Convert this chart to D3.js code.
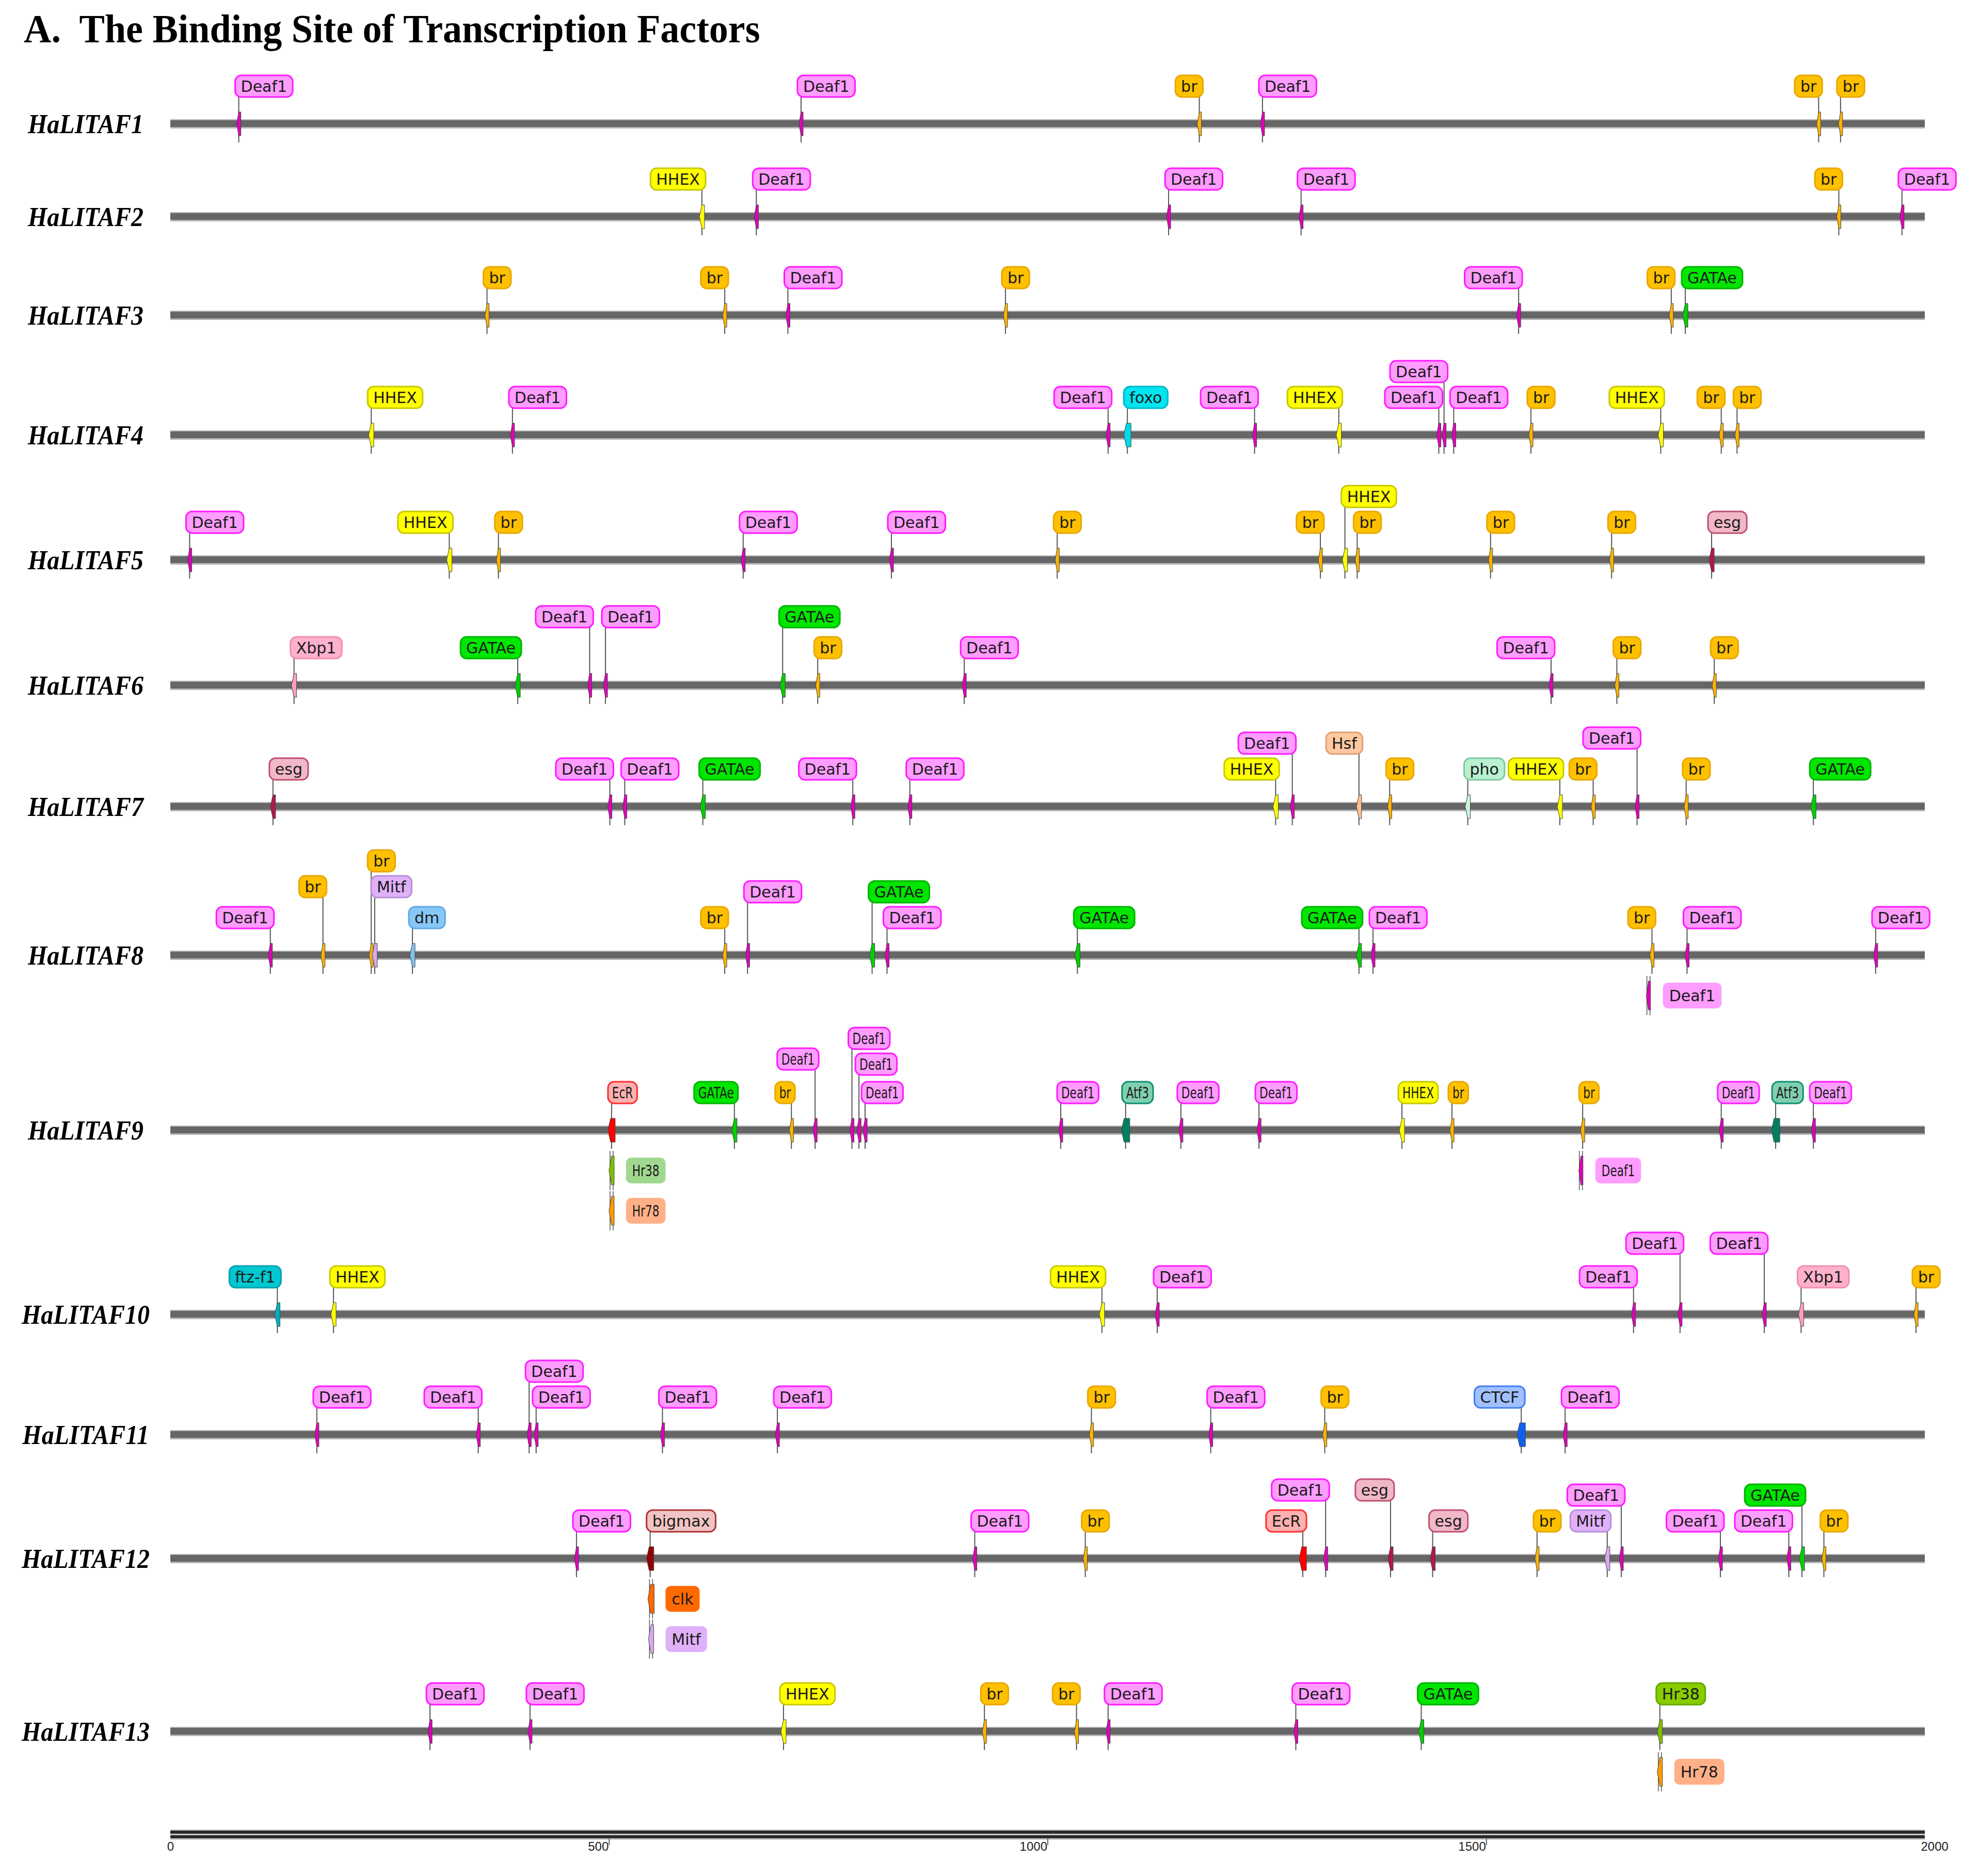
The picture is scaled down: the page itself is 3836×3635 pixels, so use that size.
<!DOCTYPE html>
<html>
<head>
<meta charset="utf-8">
<script src="https://cdn.jsdelivr.net/npm/d3@7"></script>
<style>
  body { margin: 0; background: #fff; }
</style>
</head>
<body>
<script>
// gene names (rows, top to bottom)
const genes = ['HaLITAF1','HaLITAF2','HaLITAF3','HaLITAF4','HaLITAF5','HaLITAF6','HaLITAF7',
               'HaLITAF8','HaLITAF9','HaLITAF10','HaLITAF11','HaLITAF12','HaLITAF13'];

// binding site positions (bp, 0-2000) per gene
const sitePos = [
  [78,719,1173,1245,1879,1904],
  [606,668,1138,1289,1902,1974],
  [361,632,704,952,1537,1711,1727],
  [229,390,1069,1091,1236,1332,1446,1452,1463,1551,1699,1768,1786],
  [22,318,374,653,822,1011,1311,1339,1353,1505,1643,1757],
  [141,396,478,496,698,738,905,1574,1649,1760],
  [117,501,518,607,778,843,1260,1279,1355,1390,1479,1584,1622,1672,1728,1873],
  [114,174,229,233,276,632,658,800,817,1034,1355,1371,1689,1685,1729,1944],
  [503,503,503,643,708,735,777,785,792,1015,1089,1152,1241,1404,1461,1610,1608,1768,1830,1873],
  [122,186,1062,1125,1668,1721,1817,1859,1990],
  [167,351,409,417,561,692,1050,1186,1316,1540,1590],
  [463,547,548,548,917,1043,1291,1317,1391,1439,1558,1638,1654,1767,1845,1860,1885],
  [296,410,699,928,1033,1069,1283,1426,1698,1698]
];

// transcription factor of each site
const siteTF = [
  ['Deaf1','Deaf1','br','Deaf1','br','br'],
  ['HHEX','Deaf1','Deaf1','Deaf1','br','Deaf1'],
  ['br','br','Deaf1','br','Deaf1','br','GATAe'],
  ['HHEX','Deaf1','Deaf1','foxo','Deaf1','HHEX','Deaf1','Deaf1','Deaf1','br','HHEX','br','br'],
  ['Deaf1','HHEX','br','Deaf1','Deaf1','br','br','HHEX','br','br','br','esg'],
  ['Xbp1','GATAe','Deaf1','Deaf1','GATAe','br','Deaf1','Deaf1','br','br'],
  ['esg','Deaf1','Deaf1','GATAe','Deaf1','Deaf1','HHEX','Deaf1','Hsf','br','pho','HHEX','br','Deaf1','br','GATAe'],
  ['Deaf1','br','br','Mitf','dm','br','Deaf1','GATAe','Deaf1','GATAe','GATAe','Deaf1','br','Deaf1','Deaf1','Deaf1'],
  ['EcR','Hr38','Hr78','GATAe','br','Deaf1','Deaf1','Deaf1','Deaf1','Deaf1','Atf3','Deaf1','Deaf1','HHEX','br','br','Deaf1','Deaf1','Atf3','Deaf1'],
  ['ftz-f1','HHEX','HHEX','Deaf1','Deaf1','Deaf1','Deaf1','Xbp1','br'],
  ['Deaf1','Deaf1','Deaf1','Deaf1','Deaf1','Deaf1','br','Deaf1','br','CTCF','Deaf1'],
  ['Deaf1','bigmax','clk','Mitf','Deaf1','br','EcR','Deaf1','esg','esg','br','Mitf','Deaf1','Deaf1','Deaf1','GATAe','br'],
  ['Deaf1','Deaf1','HHEX','br','br','Deaf1','Deaf1','GATAe','Hr38','Hr78']
];

// label tier: 0 = first row above the gene, >0 stacked higher, <0 below the gene
const siteLevel = [
  [0,0,0,0,0,0],
  [0,0,0,0,0,0],
  [0,0,0,0,0,0,0],
  [0,0,0,0,0,0,0,1,0,0,0,0,0],
  [0,0,0,0,0,0,0,1,0,0,0,0],
  [0,0,1.2,1.2,1.2,0,0,0,0,0],
  [0,0,0,0,0,0,0,1,1,0,0,0,0,1.2,0,0],
  [0,1.2,2.2,1.2,0,0,1,1,0,0,0,0,0,-1,0,0],
  [0,-1,-2,0,0,1.3,2.1,1.1,0,0,0,0,0,0,0,0,-1,0,0,0],
  [0,0,0,0,0,1.3,1.3,0,0],
  [0,0,1,0,0,0,0,0,0,0,0],
  [0,0,-1,-2,0,0,0,1.2,1.2,0,0,0,1,0,0,1,0],
  [0,0,0,0,0,0,0,0,0,-1]
];

// label side relative to the site: r = label to the right, l = label to the left
const siteSide = [
  'rrlrlr',
  'lrrrlr',
  'rlrrllr',
  'rrlrllllrrllr',
  'rlrrrrlrrrrr',
  'rllrrrrlrr',
  'rlrrlrlllrrlllrr',
  'llrrrlrrrrlrlrrr',
  'rrrlllrrrrrrrrrrrrrr',
  'lrlrlllrr',
  'rlrrrrrrrlr',
  'rrrrrrlllrrlllllr',
  'rrrrlrrrrr'
];

const axisTicks = [0, 500, 1000, 1500, 2000];

// colours per factor: label fill, label border, site marker, marker width
const tfStyle = {
  'Deaf1':  {fill:'#ff9cff', stroke:'#ff1aff', mark:'#e000b8', w:8},
  'br':     {fill:'#ffc000', stroke:'#e8a800', mark:'#ffb400', w:8},
  'HHEX':   {fill:'#ffff00', stroke:'#c8c800', mark:'#ffff00', w:10},
  'GATAe':  {fill:'#00e600', stroke:'#00b400', mark:'#00d000', w:10},
  'foxo':   {fill:'#00e5f0', stroke:'#00b8c8', mark:'#00d8e8', w:14},
  'esg':    {fill:'#f0b8c8', stroke:'#c05070', mark:'#b01850', w:10},
  'Xbp1':   {fill:'#ffb0cc', stroke:'#f090b0', mark:'#ff9cc0', w:10},
  'Hsf':    {fill:'#ffc8a0', stroke:'#e0a078', mark:'#ffc090', w:10},
  'pho':    {fill:'#b8f0d0', stroke:'#80c8a0', mark:'#c8f4dc', w:10},
  'Mitf':   {fill:'#e0b0f8', stroke:'#b890d8', mark:'#d8a8f0', w:10},
  'dm':     {fill:'#88c8f8', stroke:'#60a8e0', mark:'#80c0f0', w:10},
  'EcR':    {fill:'#ffb0b0', stroke:'#ff3030', mark:'#ff0000', w:14},
  'Atf3':   {fill:'#80d0b0', stroke:'#109070', mark:'#008060', w:16},
  'Hr38':   {fill:'#88cc00', stroke:'#66a800', mark:'#80c000', w:10, below:'#a0d890'},
  'Hr78':   {fill:'#ffb088', stroke:'#e09060', mark:'#ff9900', w:10, below:'#ffb088'},
  'ftz-f1': {fill:'#00c8d0', stroke:'#00a0b0', mark:'#00b0c0', w:10},
  'CTCF':   {fill:'#a0c0ff', stroke:'#4080f0', mark:'#1060f0', w:16},
  'bigmax': {fill:'#f0c4c4', stroke:'#b03030', mark:'#900000', w:14},
  'clk':    {fill:'#ff6a00', stroke:'#e05000', mark:'#ff6a00', w:12, below:'#ff6a00'}
};

const W = 3836, H = 3635;
const rowLineY = [240, 420, 611, 843, 1085, 1328, 1563, 1851, 2190, 2547, 2780, 3020, 3355];

const svg = d3.select('body').append('svg')
  .attr('width', W).attr('height', H)
  .attr('viewBox', `0 0 ${W} ${H}`);
svg.append('rect').attr('width', W).attr('height', H).attr('fill', '#fff');

const x = d3.scaleLinear().domain([0, 2000]).range([330, 3729]);
const rowY = d3.scaleOrdinal().domain(genes).range(rowLineY);

// title
svg.append('text')
  .attr('transform', 'translate(46,82) scale(1,1.05)')
  .attr('font-family', '"Liberation Serif", "Times New Roman", serif')
  .attr('font-weight', 'bold')
  .attr('font-size', 74)
  .style('white-space', 'pre')
  .text('A.  The Binding Site of Transcription Factors');

const LABEL_FONT = '"DejaVu Sans", Verdana, sans-serif';
const BOX_H = 42, TIER = 50, BASE_GAP = 52;

// marker: narrow block with a point on the left
function markerPath(cx, cy, w, h) {
  const p = Math.min(w / 2, 5);
  return `M${cx + w / 2},${cy - h / 2} L${cx + w / 2},${cy + h / 2} L${cx - w / 2 + p},${cy + h / 2}` +
         ` L${cx - w / 2},${cy} L${cx - w / 2 + p},${cy - h / 2} Z`;
}

genes.forEach((g, i) => {
  const y = rowY(g);
  const squeeze = g === 'HaLITAF9' ? 0.72 : 1;
  const row = svg.append('g').attr('class', 'row');

  // gene name
  row.append('text')
    .attr('transform', `translate(166,${y + 18}) scale(1,1.1)`)
    .attr('text-anchor', 'middle')
    .attr('font-family', '"Liberation Serif", "Times New Roman", serif')
    .attr('font-weight', 'bold').attr('font-style', 'italic')
    .attr('font-size', 48)
    .text(g);

  // gene bar
  row.append('rect')
    .attr('x', x(0)).attr('y', y - 9).attr('width', x(2000) - x(0)).attr('height', 18)
    .attr('fill', '#b4b4b4');
  row.append('rect')
    .attr('x', x(0)).attr('y', y - 7).attr('width', x(2000) - x(0)).attr('height', 13)
    .attr('fill', '#666');

  const sites = sitePos[i].map((p, j) => ({
    pos: p, tf: siteTF[i][j], lvl: siteLevel[i][j], side: siteSide[i][j]
  }));

  const connG = row.append('g');
  const markG = row.append('g');
  const boxG = row.append('g');

  sites.forEach(s => {
    const st = tfStyle[s.tf];
    const mx = x(s.pos);
    const lab = boxG.append('g');
    const rect = lab.append('rect');
    const txt = lab.append('text')
      .attr('font-family', LABEL_FONT)
      .attr('font-size', 30)
      .attr('fill', '#1a1a1a')
      .attr('text-anchor', 'middle')
      .text(s.tf);
    const natural = txt.node().getComputedTextLength();
    const tw = natural * squeeze;
    if (squeeze !== 1) txt.attr('textLength', tw).attr('lengthAdjust', 'spacingAndGlyphs');

    if (s.lvl >= 0) {
      const bw = tw + (squeeze !== 1 ? 16 : 22);
      const bx = s.side === 'l' ? mx + 7 - bw : mx - 7;
      const by = y - BASE_GAP - s.lvl * TIER - BOX_H;
      const ax = Math.max(bx + 6, Math.min(bx + bw - 6, mx));
      connG.append('path')
        .attr('d', `M${ax},${by + BOX_H} L${mx},${y - 34} L${mx},${y + 36}`)
        .attr('fill', 'none').attr('stroke', '#555').attr('stroke-width', 2);
      markG.append('path')
        .attr('d', markerPath(mx, y, st.w, 46))
        .attr('fill', st.mark).attr('stroke', '#444').attr('stroke-width', 1);
      rect.attr('x', bx).attr('y', by).attr('width', bw).attr('height', BOX_H)
        .attr('rx', 12).attr('ry', 12)
        .attr('fill', st.fill).attr('stroke', st.stroke).attr('stroke-width', 3);
      txt.attr('x', bx + bw / 2).attr('y', by + BOX_H / 2).attr('dy', '0.36em');
    } else {
      const cy = y + (-s.lvl) * 78;
      const bw = tw + 24, bh = 50;
      const bx = mx + 28;
      connG.append('line')
        .attr('x1', mx - 3).attr('x2', mx - 3).attr('y1', cy - 38).attr('y2', cy + 38)
        .attr('stroke', '#555').attr('stroke-width', 1.5);
      connG.append('line')
        .attr('x1', mx + 3).attr('x2', mx + 3).attr('y1', cy - 38).attr('y2', cy + 38)
        .attr('stroke', '#555').attr('stroke-width', 1.5);
      markG.append('path')
        .attr('d', markerPath(mx, cy, st.w, 56))
        .attr('fill', st.mark).attr('stroke', '#444').attr('stroke-width', 1);
      rect.attr('x', bx).attr('y', cy - bh / 2).attr('width', bw).attr('height', bh)
        .attr('rx', 10).attr('ry', 10)
        .attr('fill', st.below || st.fill);
      txt.attr('x', bx + bw / 2).attr('y', cy).attr('dy', '0.36em');
    }
  });
});

// scale bar at the bottom
const axisY = 3563;
svg.append('rect').attr('x', x(0)).attr('y', axisY - 18).attr('width', x(2000) - x(0)).attr('height', 20)
  .attr('fill', '#c8c8c8');
svg.append('rect').attr('x', x(0)).attr('y', axisY - 16).attr('width', x(2000) - x(0)).attr('height', 6)
  .attr('fill', '#2a2a2a');
svg.append('rect').attr('x', x(0)).attr('y', axisY - 7).attr('width', x(2000) - x(0)).attr('height', 6)
  .attr('fill', '#2a2a2a');

const axis = svg.append('g')
  .attr('transform', `translate(0,${axisY})`)
  .call(d3.axisBottom(x).tickValues(axisTicks).tickFormat(d3.format('d')).tickSize(12).tickPadding(-6));
axis.select('.domain').remove();
axis.selectAll('.tick line')
  .attr('stroke', d => (d === 0 || d === 2000) ? 'none' : '#333')
  .attr('stroke-width', 1.5);
axis.selectAll('.tick text')
  .attr('font-family', '"Liberation Sans", Arial, sans-serif')
  .attr('font-size', 24)
  .attr('fill', '#222')
  .attr('text-anchor', d => d === 0 ? 'middle' : (d === 2000 ? 'start' : 'end'))
  .attr('dx', d => d === 2000 ? -8 : (d === 0 ? 0 : -1));
</script>
</body>
</html>
